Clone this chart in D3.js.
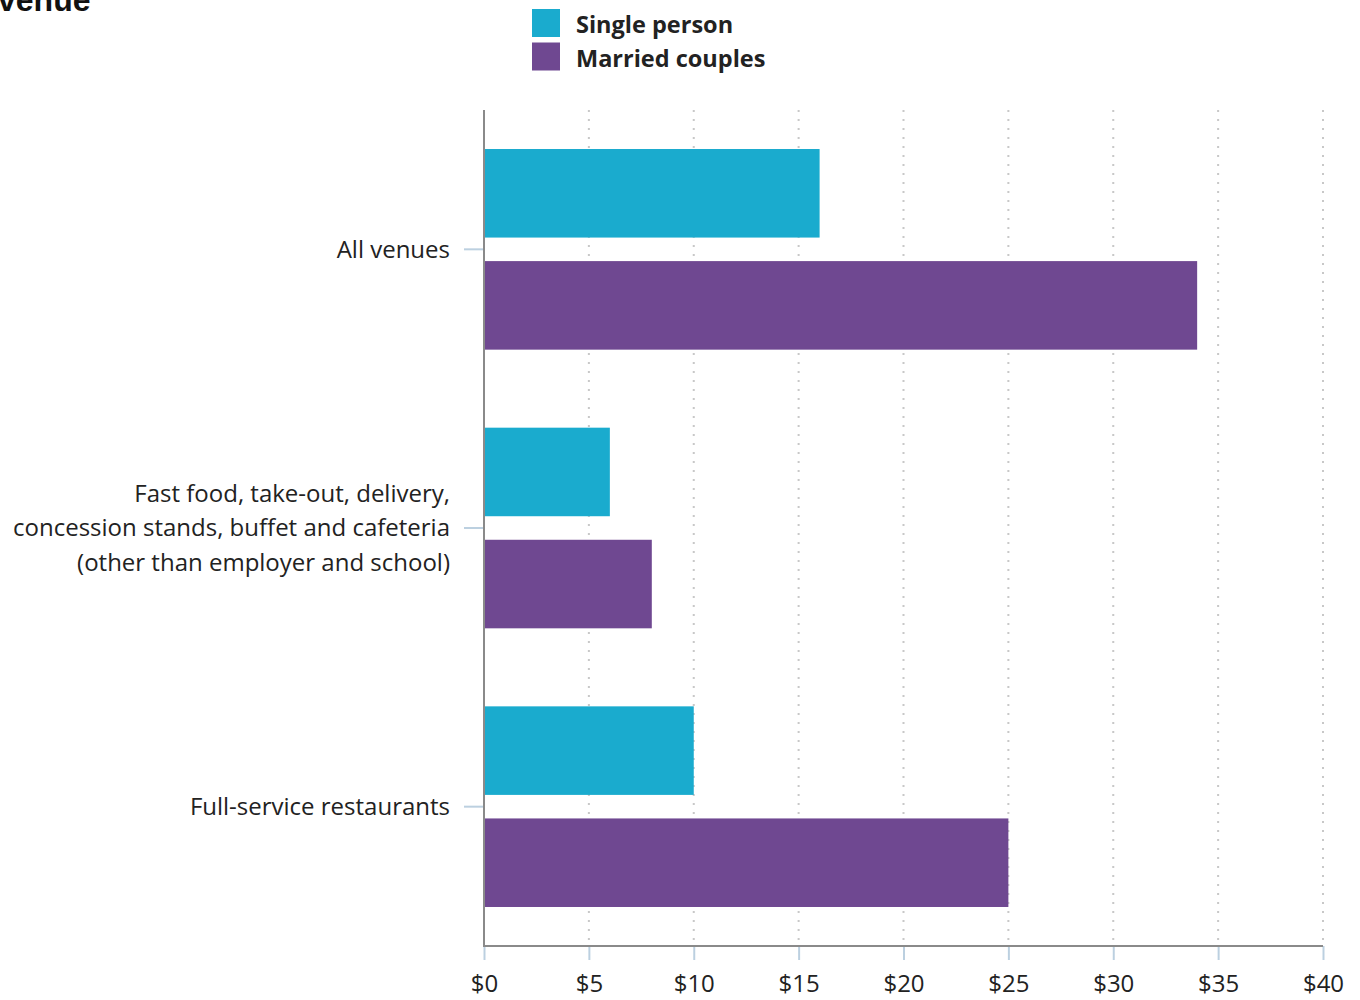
<!DOCTYPE html>
<html>
<head>
<meta charset="utf-8">
<script src="https://cdn.jsdelivr.net/npm/d3@7"></script>
<style>
  html, body { margin: 0; padding: 0; background: #fff; }
  svg { display: block; }
</style>
</head>
<body>
<svg id="chart" width="1360" height="1000"></svg>
<script>
// Average spending per meal away from home, by household type and venue
const categories = [
  ["All venues"],
  ["Fast food, take-out, delivery,", "concession stands, buffet and cafeteria", "(other than employer and school)"],
  ["Full-service restaurants"]
];
const categoryKeys = ["all", "fast", "full"];
const seriesNames = ["Single person", "Married couples"];
const singlePerson = [16, 6, 10];
const marriedCouples = [34, 8, 25];
const xTicks = [0, 5, 10, 15, 20, 25, 30, 35, 40];
const colors = ["#1aabce", "#6f4891"];

const svg = d3.select("#chart");
const font = "'Open Sans', Lato, sans-serif";

const plotLeft = 484, plotRight = 1323, plotTop = 110, plotBottom = 946;

const x = d3.scaleLinear().domain([0, 40]).range([plotLeft, plotRight]);
const y = d3.scaleBand().domain(categoryKeys).range([plotTop, plotBottom]).paddingInner(0.28).paddingOuter(0.14);
const ySeries = d3.scaleBand().domain(seriesNames).range([0, y.bandwidth()]).paddingInner(0.21);

// Title (partly above the visible area)
svg.append("text")
  .attr("x", -2).attr("y", 11)
  .attr("font-family", "Arial, 'Liberation Sans', sans-serif")
  .attr("font-weight", "bold").attr("font-size", 32).attr("fill", "#111")
  .text("venue");

// Vertical dotted gridlines
svg.append("g").selectAll("line")
  .data(xTicks.filter(d => d > 0))
  .join("line")
  .attr("x1", d => x(d)).attr("x2", d => x(d))
  .attr("y1", plotTop).attr("y2", plotBottom)
  .attr("stroke", "#c8c8c8").attr("stroke-width", 2)
  .attr("stroke-dasharray", "2,7");

// Bars
const rows = categoryKeys.map((k, i) => ({ key: k, values: [singlePerson[i], marriedCouples[i]] }));
const groups = svg.append("g").selectAll("g")
  .data(rows).join("g")
  .attr("transform", d => `translate(0,${y(d.key)})`);
groups.selectAll("rect")
  .data(d => d.values.map((v, j) => ({ series: seriesNames[j], value: v, j })))
  .join("rect")
  .attr("x", x(0))
  .attr("y", d => ySeries(d.series))
  .attr("width", d => x(d.value) - x(0))
  .attr("height", ySeries.bandwidth())
  .attr("fill", d => colors[d.j]);

// X axis
const xAxis = svg.append("g").attr("transform", `translate(0,${plotBottom})`)
  .call(d3.axisBottom(x).tickValues(xTicks).tickFormat(d => "$" + d).tickSize(14).tickPadding(15));
xAxis.select(".domain").remove();
xAxis.selectAll(".tick line").attr("stroke", "#bcd0e0").attr("stroke-width", 2);
xAxis.selectAll(".tick text")
  .attr("font-family", font).attr("font-size", 24).attr("fill", "#222");
svg.append("line")
  .attr("x1", plotLeft).attr("x2", plotRight).attr("y1", plotBottom).attr("y2", plotBottom)
  .attr("stroke", "#8a8a8a").attr("stroke-width", 2);

// Y axis
const yAxis = svg.append("g").attr("transform", `translate(${plotLeft},0)`)
  .call(d3.axisLeft(y).tickSize(20).tickPadding(12).tickFormat(() => ""));
yAxis.select(".domain").remove();
yAxis.selectAll(".tick line").attr("stroke", "#bcd0e0").attr("stroke-width", 2);
yAxis.selectAll(".tick").each(function(d, i) {
  const lines = categories[i];
  const t = d3.select(this).select("text")
    .attr("font-family", font).attr("font-size", 24).attr("fill", "#222")
    .attr("text-anchor", "end").attr("x", -34).attr("dy", null);
  const lh = 34.5;
  const off = -(lines.length - 1) / 2 * lh;
  lines.forEach((s, k) => {
    t.append("tspan").attr("x", -34).attr("y", off + k * lh).attr("dy", "0.35em").text(s);
  });
});
svg.append("line")
  .attr("x1", plotLeft).attr("x2", plotLeft).attr("y1", plotTop).attr("y2", plotBottom + 1)
  .attr("stroke", "#8a8a8a").attr("stroke-width", 2);

// Legend
const legend = svg.append("g").attr("transform", "translate(532,9)");
const li = legend.selectAll("g").data(seriesNames).join("g")
  .attr("transform", (d, i) => `translate(0,${i * 33.5})`);
li.append("rect").attr("width", 28).attr("height", 28).attr("fill", (d, i) => colors[i]);
li.append("text").attr("x", 44).attr("y", 16).attr("dy", "0.36em")
  .attr("font-family", font).attr("font-weight", "bold").attr("font-size", 23.5).attr("fill", "#222")
  .text(d => d);
</script>
</body>
</html>
